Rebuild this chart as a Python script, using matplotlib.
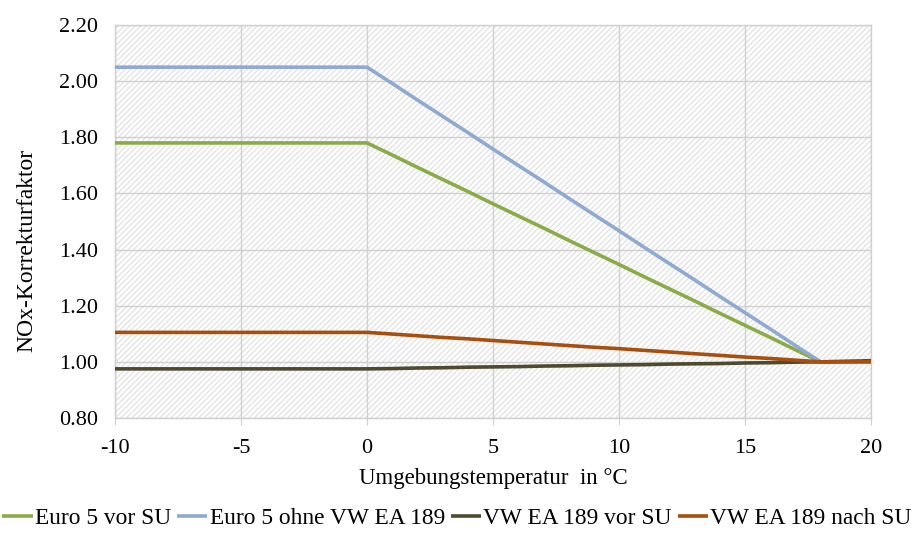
import matplotlib
matplotlib.use("Agg")
import matplotlib.pyplot as plt
from matplotlib.patches import Rectangle

plt.rcParams['font.family'] = ['Liberation Serif', 'DejaVu Serif']
plt.rcParams['axes.unicode_minus'] = False
plt.rcParams['hatch.linewidth'] = 0.9

temps = list(range(-10, 21))
plateau = 10  # points from -10 to -1 share the value at 0 °C

euro5_vor_su = [1.78] * plateau + [1.780, 1.737, 1.693, 1.650, 1.607, 1.563, 1.520, 1.477, 1.433, 1.390, 1.347,
                                   1.303, 1.260, 1.217, 1.173, 1.130, 1.087, 1.043, 1.000, 1.000, 1.000]
euro5_ohne_ea189 = [2.05] * plateau + [2.050, 1.992, 1.933, 1.875, 1.817, 1.758, 1.700, 1.642, 1.583, 1.525, 1.467,
                                       1.408, 1.350, 1.292, 1.233, 1.175, 1.117, 1.058, 1.000, 1.000, 1.000]
ea189_vor_su = [0.975] * plateau + [0.975, 0.976, 0.978, 0.979, 0.981, 0.982, 0.983, 0.985, 0.986, 0.988,
                                    0.989, 0.990, 0.992, 0.993, 0.994, 0.996, 0.997, 0.999, 1.000, 1.002, 1.004]
ea189_nach_su = [1.105] * plateau + [1.105, 1.099, 1.093, 1.087, 1.082, 1.076, 1.070, 1.064, 1.058, 1.052,
                                     1.047, 1.041, 1.035, 1.029, 1.023, 1.017, 1.012, 1.006, 1.000, 1.000, 1.000]

series = [
    ("Euro 5 vor SU", euro5_vor_su, "#8aac47"),
    ("Euro 5 ohne VW EA 189", euro5_ohne_ea189, "#8fa9d3"),
    ("VW EA 189 vor SU", ea189_vor_su, "#4e4a30"),
    ("VW EA 189 nach SU", ea189_nach_su, "#a84f0f"),
]

x_ticks = [-10, -5, 0, 5, 10, 15, 20]
y_ticks = [0.80, 1.00, 1.20, 1.40, 1.60, 1.80, 2.00, 2.20]

fs = 16

fig = plt.figure(figsize=(9.14, 5.33), dpi=100)
ax = fig.add_axes([0.1258, 0.2158, 0.8272, 0.7372])

# hatched plot-area background
ax.add_patch(Rectangle((0, 0), 1, 1, transform=ax.transAxes, facecolor='white',
                       edgecolor='#e2e2e2', linewidth=0, hatch='//////', zorder=0))

for label, values, color in series:
    ax.plot(temps, values, color=color, linewidth=2.6, label=label, zorder=3,
            solid_capstyle='butt')

ax.set_xlim(-10, 20)
ax.set_ylim(0.80, 2.20)
ax.set_xticks(x_ticks)
ax.set_yticks(y_ticks)
ax.set_yticklabels([f"{v:.2f}" for v in y_ticks])
ax.grid(True, color='#d0d0d0', linewidth=1.0, zorder=1)
ax.set_axisbelow(True)
for s in ax.spines.values():
    s.set_color('#d0d0d0')
    s.set_linewidth(1.0)
ax.tick_params(axis='x', length=5, color='#d0d0d0', labelsize=fs, pad=10)
ax.tick_params(axis='y', length=0, labelsize=fs, pad=12)

ax.set_xlabel("Umgebungstemperatur  in °C", fontsize=16.5, labelpad=7)
ax.set_ylabel("NOx-Korrekturfaktor", fontsize=17)
ax.yaxis.set_label_coords(-0.103, 0.427)

fig.legend(loc='lower center', bbox_to_anchor=(0.5, -0.012), ncol=4, frameon=False,
           fontsize=16.8, handlelength=1.3, handletextpad=0.1, columnspacing=0.25,
           borderaxespad=0.05)

fig.savefig("out.png", dpi=100)
